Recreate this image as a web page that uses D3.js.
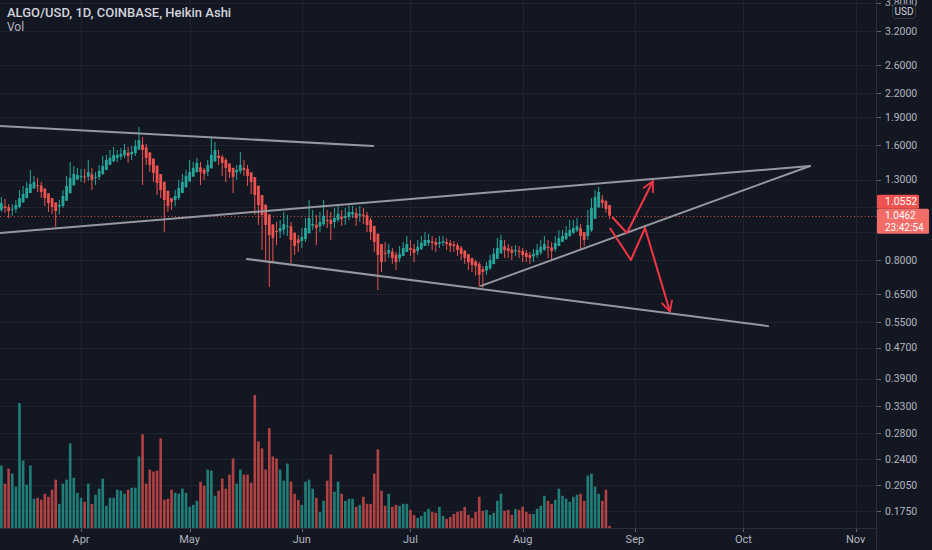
<!DOCTYPE html>
<html><head><meta charset="utf-8">
<script src="https://cdn.jsdelivr.net/npm/d3@7"></script>
<style>html,body{margin:0;padding:0;background:#131722;overflow:hidden}</style>
</head><body>
<svg id="c" width="932" height="550"></svg>
<script>
// ---------- data ----------
const title = "ALGO/USD, 1D, COINBASE, Heikin Ashi";
const paneLabel = "Vol";
const startDay = "2021-03-10";
const endDay = "2021-11-01";
const firstOpen = 1.083;
const closes = [
1.129,1.096,1.076,1.090,1.116,1.164,1.193,1.237,1.268,1.283,
1.252,1.207,1.164,1.129,1.103,1.076,1.116,1.179,1.252,1.315,
1.347,1.339,1.331,1.323,1.363,1.299,1.323,1.372,1.413,1.466,
1.484,1.511,1.511,1.520,1.557,1.502,1.538,1.595,1.654,1.557,
1.484,1.422,1.355,1.275,1.222,1.150,1.109,1.136,1.179,1.237,
1.283,1.331,1.363,1.397,1.440,1.363,1.347,1.422,1.511,1.557,
1.484,1.440,1.397,1.363,1.323,1.380,1.422,1.380,1.331,1.283,
1.186,1.116,1.051,0.989,0.931,0.914,0.948,0.971,0.995,0.983,
0.903,0.871,0.887,0.920,0.971,1.031,0.995,0.971,1.007,1.045,
1.019,0.995,1.031,1.057,1.025,1.045,1.070,1.070,1.031,1.057,
1.045,0.989,0.948,0.892,0.825,0.790,0.830,0.850,0.810,0.790,
0.830,0.860,0.881,0.850,0.835,0.866,0.887,0.903,0.903,0.887,
0.876,0.892,0.897,0.881,0.871,0.871,0.850,0.830,0.810,0.790,
0.776,0.771,0.731,0.744,0.771,0.800,0.830,0.860,0.903,0.850,
0.845,0.835,0.850,0.840,0.825,0.815,0.810,0.830,0.850,0.866,
0.881,0.860,0.845,0.887,0.914,0.925,0.942,0.959,0.971,0.983,
0.925,0.903,0.989,1.096,1.172,1.207,1.129,1.090,1.046];
const highs = [
1.172,1.157,1.122,1.122,1.150,1.222,1.252,1.283,1.380,1.331,
1.315,1.283,1.237,1.193,1.164,1.129,1.150,1.222,1.331,1.448,
1.413,1.397,1.388,1.388,1.466,1.397,1.363,1.422,1.502,1.511,
1.557,1.586,1.557,1.576,1.615,1.586,1.595,1.654,1.789,1.683,
1.615,1.538,1.466,1.397,1.315,1.260,1.179,1.164,1.222,1.299,
1.347,1.380,1.466,1.448,1.484,1.448,1.397,1.466,1.683,1.634,
1.557,1.511,1.484,1.440,1.397,1.422,1.538,1.466,1.422,1.363,
1.315,1.222,1.150,1.083,1.007,0.971,1.007,1.019,1.070,1.051,
1.007,0.948,0.931,0.971,1.031,1.150,1.083,1.051,1.070,1.150,
1.083,1.070,1.096,1.109,1.083,1.096,1.122,1.109,1.096,1.109,
1.096,1.070,1.031,0.971,0.914,0.850,0.892,0.881,0.860,0.840,
0.871,0.892,0.925,0.903,0.881,0.903,0.925,0.948,0.936,0.925,
0.914,0.925,0.925,0.914,0.903,0.897,0.887,0.871,0.850,0.830,
0.810,0.800,0.790,0.771,0.790,0.825,0.860,0.914,0.931,0.903,
0.881,0.871,0.876,0.871,0.860,0.850,0.840,0.855,0.881,0.903,
0.925,0.903,0.892,0.925,0.959,0.959,0.983,1.019,1.019,1.031,
0.995,0.948,1.083,1.164,1.222,1.245,1.186,1.150,1.116];
const lows = [
1.070,1.064,1.031,1.045,1.064,1.096,1.150,1.179,1.207,1.230,
1.207,1.164,1.109,1.070,1.057,0.977,1.057,1.096,1.157,1.222,
1.283,1.299,1.283,1.275,1.291,1.222,1.260,1.299,1.339,1.380,
1.422,1.448,1.448,1.466,1.484,1.440,1.466,1.502,1.557,1.260,
1.422,1.363,1.283,1.186,1.164,0.948,1.070,1.083,1.109,1.150,
1.207,1.260,1.299,1.339,1.380,1.260,1.299,1.331,1.397,1.466,
1.422,1.331,1.283,1.315,1.200,1.299,1.347,1.331,1.252,1.193,
1.051,0.989,0.850,0.800,0.680,0.790,0.876,0.914,0.931,0.925,
0.785,0.825,0.840,0.860,0.892,0.948,0.959,0.876,0.948,0.983,
0.971,0.903,0.971,1.007,0.983,0.989,1.019,1.031,0.983,1.007,
0.995,0.948,0.903,0.840,0.667,0.744,0.790,0.810,0.781,0.753,
0.790,0.820,0.850,0.820,0.790,0.825,0.850,0.871,0.871,0.850,
0.840,0.860,0.871,0.850,0.840,0.840,0.820,0.800,0.781,0.753,
0.744,0.727,0.680,0.676,0.731,0.753,0.781,0.810,0.840,0.810,
0.810,0.800,0.820,0.810,0.790,0.790,0.781,0.790,0.810,0.825,
0.845,0.810,0.800,0.840,0.871,0.892,0.903,0.920,0.936,0.948,
0.850,0.871,0.903,0.948,1.051,1.116,1.096,1.064,1.025];
const volumes = [
62,44,59,54,41,124,67,43,62,29,
30,28,34,31,38,48,24,44,48,84,
50,35,30,26,44,24,33,39,49,22,
30,30,38,37,34,38,40,40,71,93,
44,58,56,57,89,28,29,38,35,34,
39,35,21,23,27,46,42,58,57,32,
37,49,39,53,69,44,58,53,53,45,
132,86,79,58,99,71,69,58,47,64,
46,34,28,23,46,48,39,30,16,27,
47,73,36,46,34,27,29,29,21,23,
31,24,24,54,78,37,22,34,21,23,
22,24,24,18,13,10,12,16,19,16,
15,21,12,9,11,14,16,17,21,13,
10,16,31,17,18,13,15,27,34,17,
18,13,19,18,21,16,14,14,19,22,
32,27,24,28,39,32,29,26,31,33,
34,27,52,54,41,34,27,38,2];
const priceTicks = [3.8,3.2,2.6,2.2,1.9,1.6,1.3,1.1,0.95,0.8,0.65,0.55,0.47,0.39,0.33,0.28,0.24,0.205,0.175];
const monthTicks = ["2021-04-01","2021-05-01","2021-06-01","2021-07-01","2021-08-01","2021-09-01","2021-10-01","2021-11-01"];
// drawings: [dayOffset from startDay, price]
const trendLines = [
  [[-0.4,1.800],[102.7,1.595]],
  [[-0.4,0.942],[223.4,1.413]],
  [[67.8,0.805],[211.8,0.536]],
  [[132.5,0.684],[223.4,1.413]]
];
const arrows = [
  [[168.7,1.038],[172.8,0.942],[180.0,1.291]],
  [[168.1,0.971],[173.9,0.800],[177.8,0.971],[184.7,0.585]]
];
const lastClose = 1.0552;
const lastPrice = 1.0462;
const countdown = "23:42:54";
const currency = "USD";

// ---------- layout ----------
const W = 932, H = 550, plotR = 876, plotB = 528;
const svg = d3.select("#c");
svg.append("rect").attr("width", W).attr("height", H).attr("fill", "#131722");

const parse = d3.utcParse("%Y-%m-%d");
const t0 = parse(startDay);
const dayDate = d => new Date(t0.getTime() + d * 864e5);
const x = d3.scaleUtc().domain([t0, parse(endDay)]).range([1.4, 855.7]);
const xd = d => x(dayDate(d));
const y = d3.scaleLog().domain([0.175, 3.2]).range([511, 31]);
const vy = d3.scaleLinear().domain([0, 132]).range([plotB, plotB - 133]);

const font = "Roboto, 'Noto Sans', sans-serif";
const gridC = "#1f2330";

// grid
const grid = svg.append("g");
grid.selectAll("line.h").data(priceTicks).join("line")
  .attr("x1", 0).attr("x2", plotR)
  .attr("y1", d => Math.round(y(d)) + 0.5).attr("y2", d => Math.round(y(d)) + 0.5)
  .attr("stroke", gridC);
grid.selectAll("line.v").data(monthTicks).join("line")
  .attr("x1", d => Math.round(x(parse(d))) + 0.5).attr("x2", d => Math.round(x(parse(d))) + 0.5)
  .attr("y1", 0).attr("y2", plotB).attr("stroke", gridC);

// HA candles
const n = closes.length;
const opens = [];
for (let i = 0; i < n; i++) opens.push(i === 0 ? firstOpen : (opens[i - 1] + closes[i - 1]) / 2);
const bars = d3.range(n).map(i => ({
  i, o: opens[i], c: closes[i],
  h: Math.max(highs[i], opens[i], closes[i]),
  l: Math.min(lows[i], opens[i], closes[i]),
  v: volumes[i], up: closes[i] >= opens[i]
}));
const up = "#26a69a", dn = "#ef5350";

// volume
svg.append("g").selectAll("rect").data(bars).join("rect")
  .attr("x", d => xd(d.i) - 1.3).attr("width", 2.6)
  .attr("y", d => vy(d.v)).attr("height", d => plotB - vy(d.v))
  .attr("fill", d => d.up ? up : dn).attr("opacity", 0.72);

// dotted last price line
svg.append("line").attr("x1", 0).attr("x2", plotR)
  .attr("y1", Math.round(y(lastPrice)) + 0.5).attr("y2", Math.round(y(lastPrice)) + 0.5)
  .attr("stroke", dn).attr("stroke-width", 1).attr("stroke-dasharray", "1,2.5").attr("opacity", 0.9);

// candles
const cg = svg.append("g");
cg.selectAll("line").data(bars).join("line")
  .attr("x1", d => xd(d.i)).attr("x2", d => xd(d.i))
  .attr("y1", d => y(d.h)).attr("y2", d => y(d.l))
  .attr("stroke", d => d.up ? up : dn).attr("stroke-width", 1);
cg.selectAll("rect").data(bars).join("rect")
  .attr("x", d => xd(d.i) - 1.4).attr("width", 2.8)
  .attr("y", d => y(Math.max(d.o, d.c)))
  .attr("height", d => Math.max(1, Math.abs(y(d.o) - y(d.c))))
  .attr("fill", d => d.up ? up : dn);

// trend lines
const lineGen = d3.line().x(p => xd(p[0])).y(p => y(p[1]));
svg.append("g").selectAll("path").data(trendLines).join("path")
  .attr("d", lineGen).attr("fill", "none").attr("stroke", "#9598a1").attr("stroke-width", 2)
  .attr("stroke-linecap", "round");

// arrows
const defs = svg.append("defs");
defs.append("marker").attr("id", "ah").attr("viewBox", "0 0 12 12")
  .attr("refX", 11).attr("refY", 6).attr("markerWidth", 13).attr("markerHeight", 13)
  .attr("markerUnits", "userSpaceOnUse").attr("orient", "auto")
  .append("path").attr("d", "M1,1 L11,6 L1,11").attr("fill", "none")
  .attr("stroke", "#f23645").attr("stroke-width", 1.6).attr("stroke-linejoin", "round");
svg.append("g").selectAll("path").data(arrows).join("path")
  .attr("d", lineGen).attr("fill", "none").attr("stroke", "#f23645").attr("stroke-width", 2)
  .attr("stroke-linejoin", "round").attr("marker-end", "url(#ah)");

// axes frame
svg.append("rect").attr("x", plotR).attr("y", 0).attr("width", W - plotR).attr("height", H).attr("fill", "#131722");
svg.append("rect").attr("x", 0).attr("y", plotB).attr("width", plotR).attr("height", H - plotB).attr("fill", "#131722");
svg.append("line").attr("x1", plotR + 0.5).attr("x2", plotR + 0.5).attr("y1", 0).attr("y2", H).attr("stroke", "#2a2e39");
svg.append("line").attr("x1", 0).attr("x2", plotR).attr("y1", plotB + 0.5).attr("y2", plotB + 0.5).attr("stroke", "#2a2e39");

// price label boxes (stacked so they do not overlap, like the reference)
const yp = y(lastPrice);
const boxP = { top: yp - 7, h: 25 };
const boxC = { h: 14 };
boxC.top = Math.min(y(lastClose) - 7, boxP.top - boxC.h);

// price axis (labels hidden under the price boxes are skipped)
const visibleTicks = priceTicks.filter(d => {
  const ty = y(d);
  return !(ty > boxC.top - 5 && ty < boxP.top + boxP.h + 5);
});
const pa = svg.append("g");
pa.selectAll("line").data(priceTicks).join("line")
  .attr("x1", plotR + 1).attr("x2", plotR + 5)
  .attr("y1", d => Math.round(y(d)) + 0.5).attr("y2", d => Math.round(y(d)) + 0.5)
  .attr("stroke", "#b2b5be").attr("opacity", 0.5);
pa.selectAll("text").data(visibleTicks).join("text")
  .attr("x", 885).attr("y", d => y(d)).attr("dy", "0.35em")
  .attr("fill", "#b2b5be").attr("font-family", font).attr("font-size", 10.5)
  .text(d => d.toFixed(4));

// time axis
const ta = svg.append("g");
ta.selectAll("line").data(monthTicks).join("line")
  .attr("x1", d => Math.round(x(parse(d))) + 0.5).attr("x2", d => Math.round(x(parse(d))) + 0.5)
  .attr("y1", plotB + 1).attr("y2", plotB + 4).attr("stroke", "#b2b5be").attr("opacity", 0.5);
ta.selectAll("text").data(monthTicks).join("text")
  .attr("x", d => x(parse(d))).attr("y", 543).attr("text-anchor", "middle")
  .attr("fill", "#b2b5be").attr("font-family", font).attr("font-size", 11)
  .text(d => d3.utcFormat("%b")(parse(d)));

// currency badge
svg.append("rect").attr("x", 892.5).attr("y", 4.5).attr("width", 23).attr("height", 14).attr("rx", 3)
  .attr("fill", "#131722").attr("stroke", "#363a45");
svg.append("text").attr("x", 904).attr("y", 11.5).attr("dy", "0.35em").attr("text-anchor", "middle")
  .attr("fill", "#d1d4dc").attr("font-family", font).attr("font-size", 10).text(currency);

// price label boxes
svg.append("rect").attr("x", plotR + 1).attr("y", boxC.top).attr("width", 42).attr("height", boxC.h).attr("rx", 1.5).attr("fill", "#f0524f");
svg.append("text").attr("x", 885).attr("y", boxC.top + boxC.h / 2).attr("dy", "0.35em").attr("fill", "#ffffff")
  .attr("font-family", font).attr("font-size", 10.5).text(lastClose.toFixed(4));
svg.append("rect").attr("x", plotR + 1).attr("y", boxP.top).attr("width", 52).attr("height", boxP.h).attr("rx", 1.5).attr("fill", "#f26c68");
svg.append("text").attr("x", 885).attr("y", boxP.top + 6.5).attr("dy", "0.35em").attr("fill", "#ffffff")
  .attr("font-family", font).attr("font-size", 10).text(lastPrice.toFixed(4));
svg.append("text").attr("x", 885).attr("y", boxP.top + 18.5).attr("dy", "0.35em").attr("fill", "#ffffff")
  .attr("font-family", font).attr("font-size", 10).text(countdown);

// header
svg.append("text").attr("x", 7).attr("y", 17).attr("fill", "#d1d4dc")
  .attr("font-family", font).attr("font-size", 13).attr("font-weight", 500).text(title);
svg.append("text").attr("x", 7).attr("y", 31).attr("fill", "#b2b5be")
  .attr("font-family", font).attr("font-size", 12).text(paneLabel);
</script>
</body></html>
